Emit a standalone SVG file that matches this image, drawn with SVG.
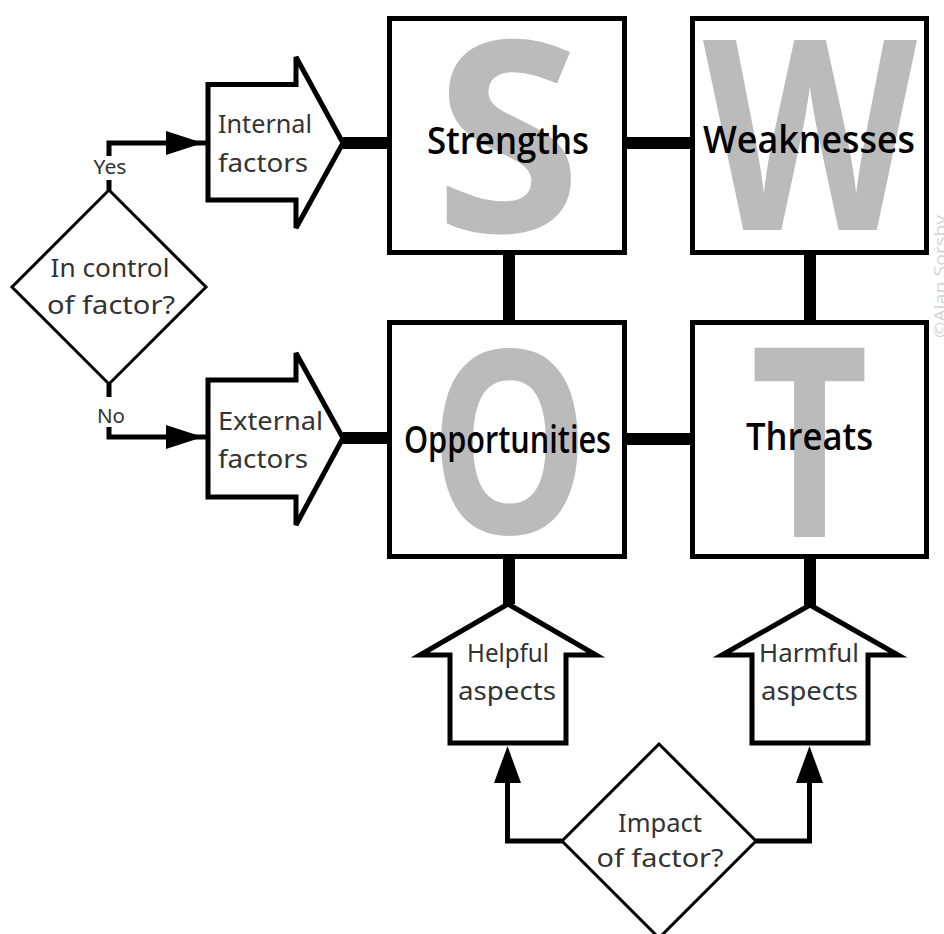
<svg xmlns="http://www.w3.org/2000/svg" width="944" height="934" viewBox="0 0 944 934">
<style>
.box{fill:#fff;stroke:#000;stroke-width:5}
.big{font-family:"Open Sans","DejaVu Sans",sans-serif;font-weight:700;fill:#bbbbbb;text-anchor:middle}
.title{font-family:"Open Sans","DejaVu Sans",sans-serif;font-weight:600;font-size:37px;fill:#000;text-anchor:middle}
.shape{fill:#fff;stroke:#000;stroke-width:5;stroke-linejoin:miter}
.dia{fill:#fff;stroke:#000;stroke-width:3}
.lbl{font-family:"Noto Sans","Open Sans",sans-serif;font-size:26px;fill:#333}
.small{font-family:"Noto Sans","Open Sans",sans-serif;font-size:20px;fill:#333;text-anchor:middle}
.thick{fill:none;stroke:#000;stroke-width:12}
.thin{fill:none;stroke:#000;stroke-width:5}
.head{fill:#000}
</style>
<rect width="944" height="934" fill="#fff"/>
<g id="connectors">
<path class="thick" d="M624.5,143H692.5M624.5,439H692.5M509,252.5V322.5M810,252.5V322.5M343,143H389.5M343,438H389.5M509,556V604M810,556V605"/>
<path class="thin" d="M109,190V180M109,156V143H206"/>
<polygon class="head" points="166,131 166,155 203,143"/>
<path class="thin" d="M109,384V397M109,427V437H206"/>
<polygon class="head" points="166,425 166,449 203,437"/>
<path class="thin" d="M562,841H507.5V780"/>
<polygon class="head" points="494,783 521,783 507.5,746"/>
<path class="thin" d="M756,841H809.5V780"/>
<polygon class="head" points="796,783 823,783 809.5,746"/>
<text class="small" x="110" y="174" textLength="33" lengthAdjust="spacingAndGlyphs">Yes</text>
<text class="small" x="111" y="423" textLength="28" lengthAdjust="spacingAndGlyphs">No</text>
</g>
<g id="strengths">
<rect class="box" x="389.5" y="18.5" width="235" height="234"/>
<text class="big" x="508" y="232" font-size="267">S</text>
<text class="title" x="508" y="154" textLength="162" lengthAdjust="spacingAndGlyphs">Strengths</text>
</g>
<g id="weaknesses">
<rect class="box" x="692.5" y="18.5" width="234" height="234"/>
<text class="big" x="810" y="230" font-size="266" textLength="214" lengthAdjust="spacingAndGlyphs">W</text>
<text class="title" x="809" y="153" textLength="212" lengthAdjust="spacingAndGlyphs">Weaknesses</text>
</g>
<g id="opportunities">
<rect class="box" x="389.5" y="322.5" width="235" height="234"/>
<text class="big" x="509.5" y="534" font-size="255" textLength="160" lengthAdjust="spacingAndGlyphs">O</text>
<text class="title" x="507.5" y="453" textLength="207" lengthAdjust="spacingAndGlyphs">Opportunities</text>
</g>
<g id="threats">
<rect class="box" x="692.5" y="322.5" width="234" height="234"/>
<text class="big" x="809.5" y="537" font-size="265" textLength="118" lengthAdjust="spacingAndGlyphs">T</text>
<text class="title" x="809.5" y="450" textLength="127" lengthAdjust="spacingAndGlyphs">Threats</text>
</g>
<g id="internal">
<polygon class="shape" points="208,84.5 296,84.5 296,57 343,143 296,228 296,200 208,200"/>
<text class="lbl" x="218" y="133" textLength="94" lengthAdjust="spacingAndGlyphs">Internal</text>
<text class="lbl" x="218" y="172" textLength="90" lengthAdjust="spacingAndGlyphs">factors</text>
</g>
<g id="external">
<polygon class="shape" points="208,380 296,380 296,353 343,438 296,525 296,497 208,497"/>
<text class="lbl" x="218" y="430" textLength="105" lengthAdjust="spacingAndGlyphs">External</text>
<text class="lbl" x="218" y="468" textLength="90" lengthAdjust="spacingAndGlyphs">factors</text>
</g>
<g id="control">
<polygon class="dia" points="109,190 206,287 109,384 12,287"/>
<text class="lbl" x="110" y="277" text-anchor="middle" textLength="119" lengthAdjust="spacingAndGlyphs">In control</text>
<text class="lbl" x="111" y="314" text-anchor="middle" textLength="128" lengthAdjust="spacingAndGlyphs">of factor?</text>
</g>
<g id="helpful">
<polygon class="shape" points="508,604 420,655 450,655 450,743 566,743 566,655 596,655"/>
<text class="lbl" x="508" y="662" text-anchor="middle" textLength="82" lengthAdjust="spacingAndGlyphs">Helpful</text>
<text class="lbl" x="507" y="700" text-anchor="middle" textLength="98" lengthAdjust="spacingAndGlyphs">aspects</text>
</g>
<g id="harmful">
<polygon class="shape" points="810,605 722,655 752,655 752,743 868,743 868,655 898,655"/>
<text class="lbl" x="809" y="662" text-anchor="middle" textLength="100" lengthAdjust="spacingAndGlyphs">Harmful</text>
<text class="lbl" x="809.5" y="700" text-anchor="middle" textLength="97" lengthAdjust="spacingAndGlyphs">aspects</text>
</g>
<g id="impact">
<polygon class="dia" points="659,744 756,841 659,938 562,841"/>
<text class="lbl" x="660" y="832" text-anchor="middle" textLength="84" lengthAdjust="spacingAndGlyphs">Impact</text>
<text class="lbl" x="660" y="867" text-anchor="middle" textLength="127" lengthAdjust="spacingAndGlyphs">of factor?</text>
</g>
<text transform="translate(946,338) rotate(-90)" font-family="Open Sans, sans-serif" font-size="16" fill="#d4d4d4" textLength="123" lengthAdjust="spacingAndGlyphs">©Alan Sorsby</text>
</svg>
